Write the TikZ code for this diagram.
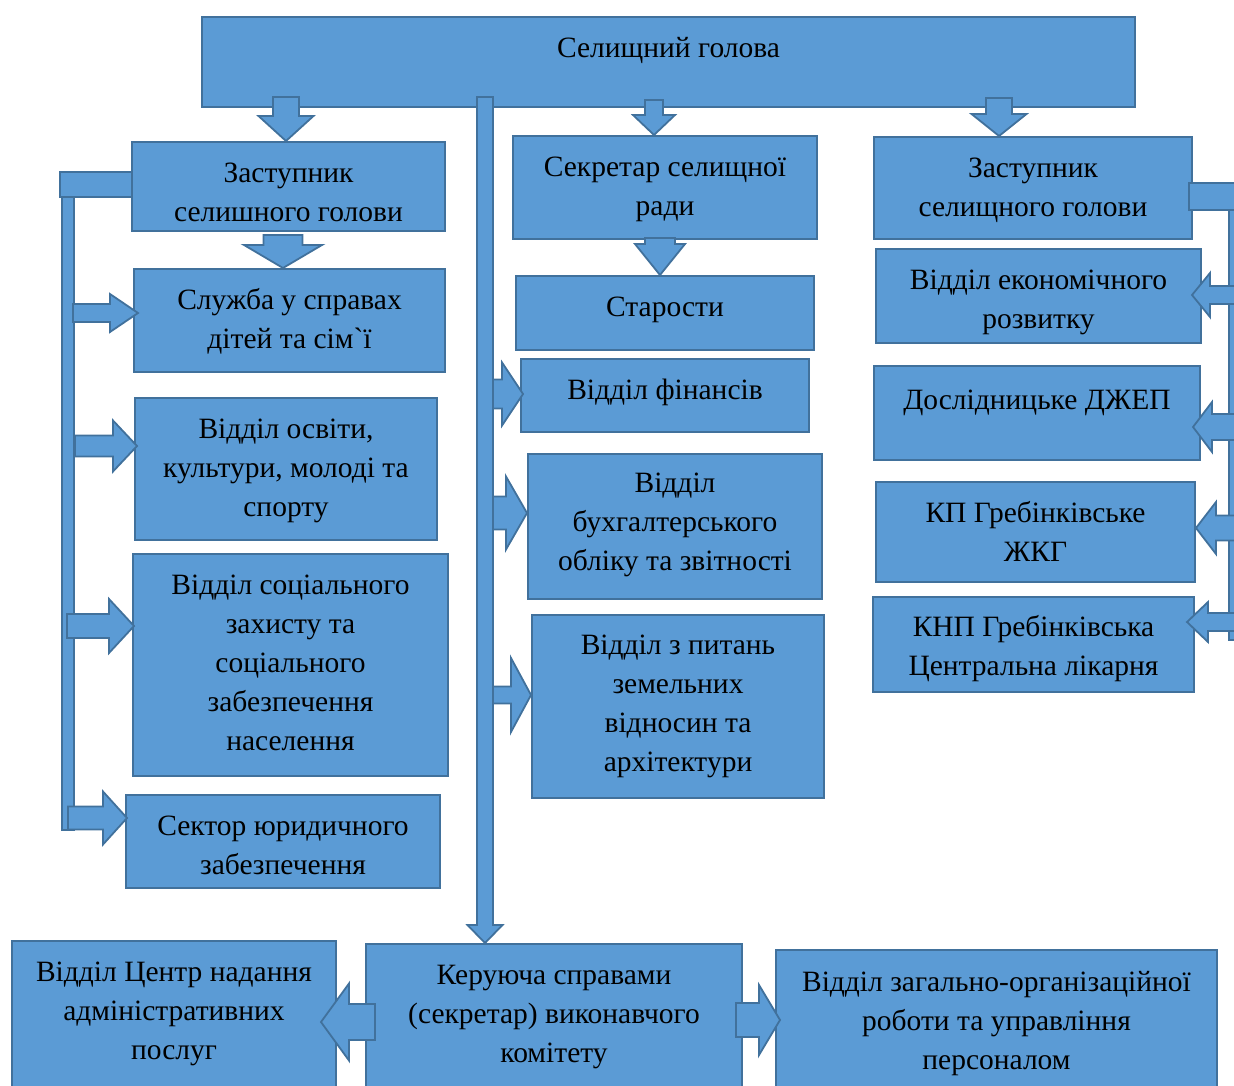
\documentclass[tikz,border=0pt]{standalone}
\usepackage{fontspec}
\newfontfamily\tnr{Liberation Serif}
\usetikzlibrary{calc,fit}
\definecolor{boxfill}{HTML}{5B9BD5}
\definecolor{boxline}{HTML}{41719C}
\tikzset{
  boxst/.style={draw=boxline, fill=boxfill, line width=2pt, inner sep=0pt},
  barr/.style={draw=boxline, fill=boxfill, line width=1.8pt, line join=miter},
  txt/.style={align=center, inner sep=0pt, font=\tnr\fontsize{29.5}{39}\selectfont, text=black}
}
\newcommand\fl{\rule{0pt}{30pt}}
% horizontal block arrow: start x, tip anchor (x), tip y, shaft half, head half, head length (signed)
\newcommand\harrow[6]{%
  \draw[barr] let \p1=(#1,0), \p2=(#2), \p3=(0,#3) in
   (\x1,{\y3+#4pt}) -- ({\x2-(#6pt)},{\y3+#4pt}) -- ({\x2-(#6pt)},{\y3+#5pt}) -- (\x2,\y3)
   -- ({\x2-(#6pt)},{\y3-#5pt}) -- ({\x2-(#6pt)},{\y3-#4pt}) -- (\x1,{\y3-#4pt}) -- cycle;}
% downward block arrow: start y, tip anchor (y), tip x, shaft half, head half, head length
\newcommand\varrow[6]{%
  \draw[barr] let \p1=(0,#1), \p2=(#2), \p3=(#3,0) in
   ({\x3-#4pt},\y1) -- ({\x3-#4pt},{\y2+#6pt}) -- ({\x3-#5pt},{\y2+#6pt}) -- (\x3,\y2)
   -- ({\x3+#5pt},{\y2+#6pt}) -- ({\x3+#4pt},{\y2+#6pt}) -- ({\x3+#4pt},\y1) -- cycle;}
\newcommand\bx[5]{\node[boxst, fit={(#2,#3) (#4,#5)}] (#1) {};}
\newcommand\tx[3]{\node[txt, anchor=north] at ([yshift=-#2pt]#1.north) {\fl #3};}
\begin{document}
\begin{tikzpicture}[x=1pt,y=-1pt]
\useasboundingbox (0,0) rectangle (1234,1086);
\clip (0,0) rectangle (1234,1086);
% boxes
\bx{top}{202}{17}{1135}{107}
\bx{zl}{132}{142}{445}{231}
\bx{svc}{134}{269}{445}{372}
\bx{osv}{135}{398}{437}{540}
\bx{soc}{133}{554}{448}{776}
\bx{jur}{126}{795}{440}{888}
\bx{sec}{513}{136}{817}{239}
\bx{star}{516}{276}{814}{350}
\bx{fin}{521}{359}{809}{432}
\bx{buh}{528}{454}{822}{599}
\bx{zem}{532}{615}{824}{798}
\bx{zr}{874}{137}{1192}{239}
\bx{eco}{876}{249}{1201}{343}
\bx{dzh}{874}{366}{1200}{460}
\bx{kp}{876}{482}{1195}{582}
\bx{knp}{873}{597}{1194}{692}
\bx{ker}{366}{944}{742}{1100}
\bx{cnap}{12}{941}{336}{1100}
\bx{zag}{776}{950}{1217}{1100}
% left bracket
\node[boxst, fit={(62,197) (74,830)}] (lbar) {};
\node[boxst, fit={(60,172) (132,197)}] (lhor) {};
% right bracket
\node[boxst, fit={(1229,210) (1245,640)}] (rbar) {};
\node[boxst, fit={(1189,183) (1245,210)}] (rhor) {};
% arrows from top
\varrow{97}{zl.north}{286}{13}{27.5}{25}
\varrow{100}{sec.north}{654}{9}{21}{20}
\varrow{98}{zr.north}{999}{13}{27.5}{22}
\varrow{235}{svc.north}{283}{19.5}{39}{23}
\varrow{238}{star.north}{660}{15}{25}{31}
% left bracket arrows
\harrow{73}{[xshift=5pt]svc.west}{313}{9}{19}{28}
\harrow{75}{[xshift=3pt]osv.west}{446}{10.5}{25.5}{24}
\harrow{67}{[xshift=2pt]soc.west}{626}{12}{27}{25}
\harrow{68}{[xshift=2pt]jur.west}{818}{11.5}{26.5}{24}
% long vertical bar
\varrow{97}{ker.north}{485}{8}{17.5}{18}
% middle arrows
\harrow{493}{[xshift=3pt]fin.west}{394}{14.5}{31.5}{21}
\harrow{493}{buh.west}{513}{16.5}{36.5}{21}
\harrow{493}{zem.west}{695}{8.5}{37}{20}
% right bracket arrows
\harrow{1240}{[xshift=-10pt]eco.east}{295}{9}{22}{-18}
\harrow{1240}{[xshift=-8pt]dzh.east}{427}{13}{25}{-19}
\harrow{1240}{kp.east}{528}{12.5}{26}{-20}
\harrow{1240}{[xshift=-8pt]knp.east}{622}{9}{20}{-21}
% bottom arrows
\harrow{375}{[xshift=-16pt]cnap.east}{1022}{18}{38.5}{-28}
\harrow{736}{[xshift=5pt]zag.west}{1020}{17}{35}{21}
% texts
\tx{top}{11}{Селищний голова}
\tx{zl}{11}{Заступник\\селишного голови}
\tx{svc}{11}{Служба у справах\\дітей та сім`ї}
\tx{osv}{11}{Відділ освіти,\\культури, молоді та\\спорту}
\tx{soc}{11}{Відділ соціального\\захисту та\\соціального\\забезпечення\\населення}
\tx{jur}{11}{Сектор юридичного\\забезпечення}
\tx{sec}{11}{Секретар селищної\\ради}
\tx{star}{11}{Старости}
\tx{fin}{11}{Відділ фінансів}
\tx{buh}{9}{Відділ\\бухгалтерського\\обліку та звітності}
\tx{zem}{10}{Відділ з питань\\земельних\\відносин та\\архітектури}
\tx{zr}{11}{Заступник\\селищного голови}
\tx{eco}{11}{Відділ економічного\\розвитку}
\tx{dzh}{14}{Дослідницьке ДЖЕП}
\tx{kp}{11}{КП Гребінківське\\ЖКГ}
\tx{knp}{10}{КНП Гребінківська\\Центральна лікарня}
\tx{ker}{11}{Керуюча справами\\(секретар) виконавчого\\комітету}
\tx{cnap}{11}{Відділ Центр надання\\адміністративних\\послуг}
\tx{zag}{12}{Відділ загально-організаційної\\роботи та управління\\персоналом}
\end{tikzpicture}
\end{document}
